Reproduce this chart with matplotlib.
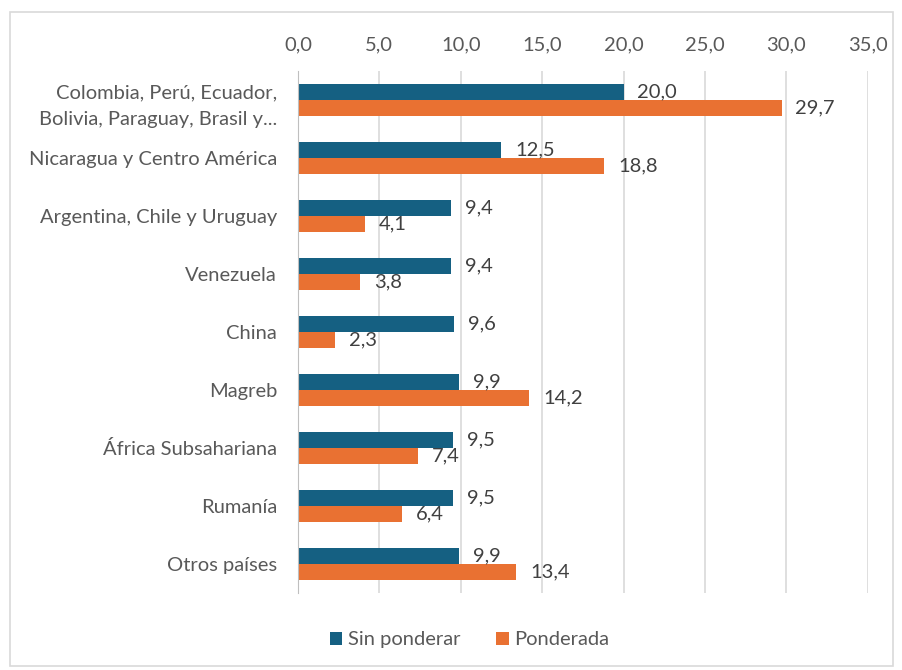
import numpy as np
import matplotlib.pyplot as plt
from matplotlib.patches import Rectangle

categorias = ["Colombia, Perú, Ecuador,\nBolivia, Paraguay, Brasil y...",
              "Nicaragua y Centro América",
              "Argentina, Chile y Uruguay",
              "Venezuela",
              "China",
              "Magreb",
              "África Subsahariana",
              "Rumanía",
              "Otros países"]
sin_ponderar = [20.0, 12.5, 9.4, 9.4, 9.6, 9.9, 9.5, 9.5, 9.9]
ponderada = [29.7, 18.8, 4.1, 3.8, 2.3, 14.2, 7.4, 6.4, 13.4]
ticks = [0, 5, 10, 15, 20, 25, 30, 35]

azul = "#156082"
naranja = "#E97132"
gris = "#595959"

plt.rcParams['font.family'] = ['Lato', 'DejaVu Sans']

fig = plt.figure(figsize=(9.03, 6.7), dpi=100)
ax = fig.add_axes([0.330, 0.115, 0.631, 0.779])

y = np.arange(len(categorias))
h = 0.276
b1 = ax.barh(y - h / 2, sin_ponderar, height=h, color=azul, label="Sin ponderar")
b2 = ax.barh(y + h / 2, ponderada, height=h, color=naranja, label="Ponderada")

def fmt(v):
    return ("%.1f" % v).replace(".", ",")

for rects, vals in ((b1, sin_ponderar), (b2, ponderada)):
    for r, v in zip(rects, vals):
        ax.annotate(fmt(v), (r.get_width(), r.get_y() + r.get_height() / 2),
                    xytext=(10, 0), textcoords="offset points",
                    va="center", ha="left", fontsize=14.5, color="#404040")

ax.set_xlim(0, 35)
ax.set_ylim(len(categorias) - 0.5, -0.5)
ax.set_xticks(ticks)
ax.set_xticklabels([fmt(t) for t in ticks], fontsize=14.5, color=gris)
ax.xaxis.tick_top()
ax.tick_params(axis="x", length=0, pad=13)
ax.set_yticks(y)
ax.set_yticklabels(categorias, fontsize=14.5, color=gris, linespacing=1.7)
ax.tick_params(axis="y", length=0, pad=15)
ax.grid(axis="x", color="#d9d9d9", linewidth=1.2)
ax.set_axisbelow(True)
for s in ["top", "right", "bottom"]:
    ax.spines[s].set_visible(False)
ax.spines["left"].set_color("#bfbfbf")

fig.legend(handles=[b1, b2], loc="center", bbox_to_anchor=(0.52, 0.045), ncol=2,
           frameon=False, fontsize=14.5, handlelength=0.6, handleheight=0.6,
           handletextpad=0.3, columnspacing=1.8, labelcolor=gris)

fig.patches.append(Rectangle((0.011, 0.006), 0.978, 0.976, transform=fig.transFigure,
                             fill=False, edgecolor="#d9d9d9", linewidth=1.2))

fig.savefig("out.png", dpi=100)
